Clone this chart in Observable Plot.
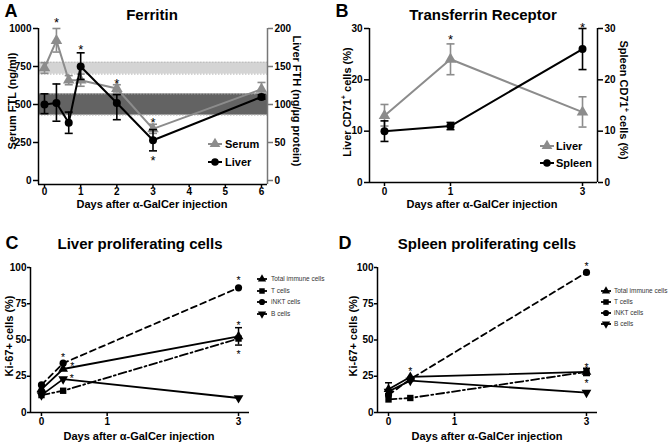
<!DOCTYPE html>
<html><head><meta charset="utf-8">
<script src="https://cdn.jsdelivr.net/npm/d3@7"></script>
<script src="https://cdn.jsdelivr.net/npm/@observablehq/plot@0.6"></script>
<style>
body{margin:0;background:#fff;}
#root{position:relative;width:671px;height:443px;font-family:"Liberation Sans",Arial,sans-serif;overflow:hidden;background:#fff;color:#000;}
.abs{position:absolute;white-space:nowrap;line-height:1;}
.plot{position:absolute;}
.title{font-weight:bold;font-size:15px;transform:translate(-50%,-50%);}
.letter{font-weight:bold;font-size:18px;transform:translate(-50%,-50%);}
.ylab{font-weight:bold;font-size:11px;transform:translate(-50%,-50%) rotate(-90deg);}
.ylabr{font-weight:bold;font-size:11px;transform:translate(-50%,-50%) rotate(90deg);}
.xlab{font-weight:bold;font-size:11px;transform:translate(-50%,-50%);}
.leg{font-weight:bold;font-size:11px;transform:translateY(-50%);}
.legs{font-size:6.5px;color:#333;transform:translateY(-50%);}
sup{font-size:0.65em;line-height:0;}
</style></head>
<body><div id="root"></div>
<script>
// ---------- Panel A: Ferritin ----------
const daysA = [0, 0.33, 0.67, 1, 2, 3, 6];
const serumFTL = [740, 920, 660, 660, 605, 340, 600];
const serumLo  = [705, 845, 630, 620, 575, 310, 560];
const serumHi  = [775, 1000, 690, 700, 630, 370, 645];
const liverFTH = [100, 102, 76, 150, 102, 53, 110];
const liverLo  = [88, 78, 62, 133, 80, 39, 107];
const liverHi  = [114, 127, 90, 168, 113, 67, 113];
const serumBand = [700, 778];
const liverBand = [86, 114];
const xTicksA = [0, 1, 2, 3, 4, 5, 6];
const yTicksA = [0, 250, 500, 750, 1000];
const yTicksAR = [0, 50, 100, 150, 200];
const starsAx = [0.33, 1, 2, 3, 3];
const starsAy = [1064, 888, 662, 406, 158];

// ---------- Panel B: Transferrin Receptor ----------
const daysB = [0, 1, 3];
const liverCD71 = [13, 24, 13.7];
const liverCD71Lo = [11, 21, 10.8];
const liverCD71Hi = [15.2, 27, 16.7];
const spleenCD71 = [10, 11, 26];
const spleenCD71Lo = [8, 10.3, 22];
const spleenCD71Hi = [12, 11.7, 30];
const xTicksB = [0, 1, 3];
const yTicksB = [0, 10, 20, 30];
const starsBx = [1, 3];
const starsBy = [28.6, 31];

// ---------- Panel C: Liver proliferating cells ----------
const daysCD = [0, 0.33, 3];
const seriesNames = ["Total immune cells", "T cells", "iNKT cells", "B cells"];
const liverTotal = [16, 30, 52.5];
const liverT = [12, 15, 51];
const liverINKT = [19, 34, 86];
const liverB = [12, 23, 10];
const errC = [{s: "Total immune cells", day: 3, lo: 46.5, hi: 58.5}];
const starsCx = [0.33, 0.47, 0.46, 3, 3, 3];
const starsCy = [39.5, 33.5, 25.5, 92.7, 62.2, 42.2];

// ---------- Panel D: Spleen proliferating cells ----------
const spleenTotal = [16, 24.5, 28];
const spleenT = [9, 10, 28];
const spleenINKT = [12, 23, 96.6];
const spleenB = [14.5, 22, 13.7];
const errD = [{s: "Total immune cells", day: 0, lo: 13, hi: 20.5}, {s: "T cells", day: 3, lo: 25.5, hi: 30.5}];
const starsDx = [0.33, 3, 3, 3];
const starsDy = [30.2, 102.7, 33.2, 22.2];
const xTicksCD = [0, 1, 3];
const yTicksCD = [0, 25, 50, 75, 100];

// ---------- helpers ----------
const GRAY = "#8c8c8c";
const FONT = "'Liberation Sans', Arial, sans-serif";
const root = document.getElementById("root");
const plain = d => String(d);
const capSym = {draw(ctx, size) { const w = Math.sqrt(size / Math.PI); ctx.moveTo(-w, 0); ctx.lineTo(w, 0); }};
const rows = (days, v, lo, hi) => days.map((d, i) => ({day: d, v: v[i], lo: lo ? lo[i] : null, hi: hi ? hi[i] : null}));
const stars = (xs, ys) => xs.map((x, i) => ({x, y: ys[i]}));
const style = {fontFamily: FONT, fontSize: "10px", fontWeight: "bold", background: "transparent", color: "#000", overflow: "visible"};

function place(el, left, top) {
  el.classList.add("plot");
  el.style.left = left + "px";
  el.style.top = top + "px";
  root.appendChild(el);
}
function text(html, cls, x, y) {
  const d = document.createElement("div");
  d.className = "abs " + cls;
  d.style.left = x + "px";
  d.style.top = y + "px";
  d.innerHTML = html;
  root.appendChild(d);
}
function errorMarks(data, color, r, sw) {
  return [
    Plot.ruleX(data, {x: "day", y1: "lo", y2: "hi", stroke: color, strokeWidth: sw}),
    Plot.dot(data, {x: "day", y: "lo", symbol: capSym, r, stroke: color, fill: "none", strokeWidth: sw}),
    Plot.dot(data, {x: "day", y: "hi", symbol: capSym, r, stroke: color, fill: "none", strokeWidth: sw})
  ];
}
function legendItem(x, y, type, rotate, color, size, half, sw) {
  const w = 2 * half + 8;
  const svg = d3.create("svg").attr("width", w).attr("height", 14)
    .style("position", "absolute").style("left", (x - half - 4) + "px").style("top", (y - 7) + "px");
  svg.append("line").attr("x1", 4).attr("x2", w - 4).attr("y1", 7).attr("y2", 7)
    .attr("stroke", color).attr("stroke-width", sw);
  svg.append("path").attr("d", d3.symbol(type, size)())
    .attr("transform", `translate(${w / 2},7) rotate(${rotate})`).attr("fill", color);
  root.appendChild(svg.node());
}

// ---------- Panel A ----------
{
  const xd = [-0.166, 6.166];
  const yMin = -26.3;
  const serum = rows(daysA, serumFTL, serumLo, serumHi);
  const liver = rows(daysA, liverFTH.map(v => v * 5), liverLo.map(v => v * 5), liverHi.map(v => v * 5));
  const bands = [
    {lo: serumBand[0], hi: serumBand[1], fill: "#d4d4d4"},
    {lo: liverBand[0] * 5, hi: liverBand[1] * 5, fill: "#636363"}
  ];
  const p = Plot.plot({
    width: 335, height: 220, marginLeft: 38, marginRight: 68, marginTop: 28, marginBottom: 36,
    style,
    x: {domain: xd},
    y: {domain: [yMin, 1000]},
    marks: [
      Plot.rect(bands, {x1: () => xd[0], x2: () => xd[1], y1: "lo", y2: "hi", fill: "fill"}),
      Plot.ruleY(bands.flatMap(b => [b.lo, b.hi]), {stroke: "#b8b8b8", strokeWidth: 1, strokeDasharray: "1.5,1.5"}),
      ...errorMarks(serum, GRAY, 4, 1.6),
      Plot.line(serum, {x: "day", y: "v", stroke: GRAY, strokeWidth: 2}),
      Plot.dot(serum, {x: "day", y: "v", symbol: "triangle", r: 4.3, fill: GRAY}),
      ...errorMarks(liver, "#000", 4, 1.6),
      Plot.line(liver, {x: "day", y: "v", stroke: "#000", strokeWidth: 2}),
      Plot.dot(liver, {x: "day", y: "v", symbol: "circle", r: 4, fill: "#000"}),
      Plot.text(stars(starsAx, starsAy), {x: "x", y: "y", text: () => "*", fontSize: 13, fontWeight: "normal", dy: 4, clip: false}),
      Plot.ruleX([xd[0]], {stroke: "#000", strokeWidth: 1.5}),
      Plot.ruleX([xd[1]], {stroke: "#777", strokeWidth: 1.5}),
      Plot.ruleY([yMin], {stroke: "#000", strokeWidth: 1.5}),
      Plot.axisY(yTicksA, {tickSize: 5, tickPadding: 2, strokeWidth: 1.5, tickFormat: plain, label: null}),
      Plot.axisY(yTicksAR.map(v => v * 5), {anchor: "right", tickFormat: (d, i) => yTicksAR[i], tickSize: 5, tickPadding: 2, stroke: "#777", strokeWidth: 1.5, label: null}),
      Plot.axisX(xTicksA, {tickSize: 3, tickPadding: 0, strokeWidth: 1.5, tickFormat: plain, label: null})
    ]
  });
  place(p, 0, 0);
  text("A", "letter", 11, 11);
  text("Ferritin", "title", 152, 14);
  text("Serum FTL (ng/ml)", "ylab", 12, 101);
  text("Liver FTH (ng/µg protein)", "ylabr", 296, 101);
  text("Days after α-GalCer injection", "xlab", 152, 204);
  legendItem(215, 144, d3.symbolTriangle, 0, GRAY, 50, 7, 2);
  text("Serum", "leg", 225, 144);
  legendItem(215, 162, d3.symbolCircle, 0, "#000", 45, 7, 2);
  text("Liver", "leg", 225, 162);
}

// ---------- Panel B ----------
{
  const xd = [-0.227, 3.227];
  const liver = rows(daysB, liverCD71, liverCD71Lo, liverCD71Hi);
  const spleen = rows(daysB, spleenCD71, spleenCD71Lo, spleenCD71Hi);
  const p = Plot.plot({
    width: 336, height: 220, marginLeft: 34, marginRight: 74, marginTop: 28, marginBottom: 38,
    style,
    x: {domain: xd},
    y: {domain: [0, 30]},
    marks: [
      ...errorMarks(liver, GRAY, 4, 1.6),
      Plot.line(liver, {x: "day", y: "v", stroke: GRAY, strokeWidth: 2}),
      Plot.dot(liver, {x: "day", y: "v", symbol: "triangle", r: 4.3, fill: GRAY}),
      ...errorMarks(spleen, "#000", 4, 1.6),
      Plot.line(spleen, {x: "day", y: "v", stroke: "#000", strokeWidth: 2}),
      Plot.dot(spleen, {x: "day", y: "v", symbol: "circle", r: 4, fill: "#000"}),
      Plot.text(stars(starsBx, starsBy), {x: "x", y: "y", text: () => "*", fontSize: 13, fontWeight: "normal", dy: 4, clip: false}),
      Plot.ruleX([xd[0]], {stroke: "#000", strokeWidth: 1.5}),
      Plot.ruleX([xd[1]], {stroke: "#000", strokeWidth: 1.5}),
      Plot.ruleY([0], {stroke: "#000", strokeWidth: 1.5}),
      Plot.axisY(yTicksB, {tickSize: 5, tickPadding: 2, strokeWidth: 1.5, tickFormat: plain, label: null}),
      Plot.axisY(yTicksB, {anchor: "right", tickSize: 5, tickPadding: 2, strokeWidth: 1.5, tickFormat: plain, label: null}),
      Plot.axisX(xTicksB, {tickSize: 4, tickPadding: 1, strokeWidth: 1.5, tickFormat: plain, label: null})
    ]
  });
  place(p, 335, 0);
  text("B", "letter", 342, 11);
  text("Transferrin Receptor", "title", 483, 14);
  text("Liver CD71<sup>+</sup> cells (%)", "ylab", 347, 102);
  text("Spleen CD71<sup>+</sup> cells (%)", "ylabr", 623, 100);
  text("Days after α-GalCer injection", "xlab", 482, 204);
  legendItem(547, 146, d3.symbolTriangle, 0, GRAY, 50, 7, 2);
  text("Liver", "leg", 556, 146);
  legendItem(547, 163, d3.symbolCircle, 0, "#000", 45, 7, 2);
  text("Spleen", "leg", 556, 163);
}

// ---------- Panels C & D ----------
const seriesStyle = [
  {sym: "triangle", d3sym: d3.symbolTriangle, rot: 0, dash: null},
  {sym: "square", d3sym: d3.symbolSquare, rot: 0, dash: "8,3,2,3"},
  {sym: "circle", d3sym: d3.symbolCircle, rot: 0, dash: "6,4"},
  {sym: "triangle", d3sym: d3.symbolTriangle, rot: 180, dash: null}
];
function prolifPlot(vals, errs, st, margins) {
  const xd = [-0.167, 3.167];
  const marks = [];
  vals.forEach((v, k) => {
    const s = seriesStyle[k];
    marks.push(Plot.line(rows(daysCD, v), {x: "day", y: "v", stroke: "#000", strokeWidth: 1.8, strokeDasharray: s.dash}));
  });
  vals.forEach((v, k) => {
    const s = seriesStyle[k];
    marks.push(Plot.dot(rows(daysCD, v), {x: "day", y: "v", symbol: s.sym, r: 3.6, fill: "#000", rotate: s.rot}));
  });
  marks.push(...errorMarks(errs, "#000", 3.5, 1.5));
  marks.push(Plot.text(st, {x: "x", y: "y", text: () => "*", fontSize: 10.5, lineHeight: 0.8, fontWeight: "normal", dy: 3.5, clip: false}));
  marks.push(Plot.ruleX([xd[0]], {stroke: "#000", strokeWidth: 1.5}));
  marks.push(Plot.ruleY([0], {stroke: "#000", strokeWidth: 1.5}));
  marks.push(Plot.axisY(yTicksCD, {tickSize: 3, tickPadding: 1, strokeWidth: 1.5, tickFormat: plain, label: null}));
  marks.push(Plot.axisX(xTicksCD, {tickSize: 4, tickPadding: 1, strokeWidth: 1.5, tickFormat: plain, label: null}));
  return Plot.plot({
    width: margins.w, height: 223, marginLeft: margins.l, marginRight: margins.r, marginTop: 47, marginBottom: 31,
    style, x: {domain: xd}, y: {domain: [0, 100]}, marks
  });
}
{
  const p = prolifPlot([liverTotal, liverT, liverINKT, liverB], errC, stars(starsCx, starsCy), {w: 335, l: 30, r: 86});
  place(p, 0, 220);
  text("C", "letter", 12, 243);
  text("Liver proliferating cells", "title", 140, 243);
  text("Ki-67+ cells (%)", "ylab", 9, 336);
  text("Days after α-GalCer injection", "xlab", 139, 436);
  const ys = [279, 290.5, 302, 313.5];
  seriesNames.forEach((n, k) => {
    legendItem(262, ys[k], seriesStyle[k].d3sym, seriesStyle[k].rot, "#000", 30, 5, 1.8);
    text(n, "legs", 271, ys[k]);
  });
}
{
  const p = prolifPlot([spleenTotal, spleenT, spleenINKT, spleenB], errD, stars(starsDx, starsDy), {w: 336, l: 42, r: 74});
  place(p, 335, 220);
  text("D", "letter", 345, 243);
  text("Spleen proliferating cells", "title", 487, 243);
  text("Ki-67+ cells (%)", "ylab", 353, 336);
  text("Days after α-GalCer injection", "xlab", 487, 436);
  const ys = [291, 302, 313, 324];
  seriesNames.forEach((n, k) => {
    legendItem(606, ys[k], seriesStyle[k].d3sym, seriesStyle[k].rot, "#000", 30, 5, 1.8);
    text(n, "legs", 614, ys[k]);
  });
}
</script>
</body></html>
